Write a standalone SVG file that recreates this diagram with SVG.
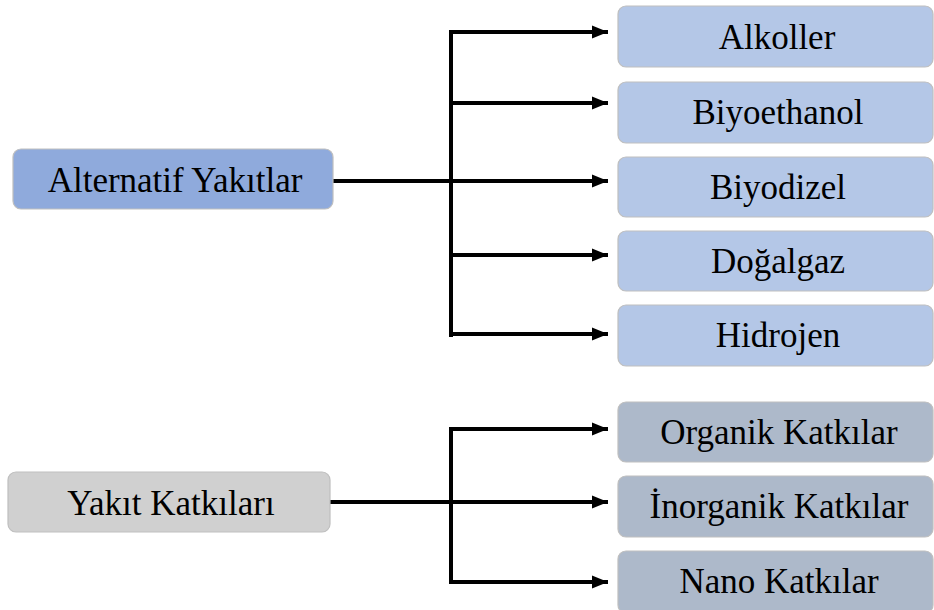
<svg xmlns="http://www.w3.org/2000/svg" width="934" height="610" viewBox="0 0 934 610">
<defs>
<marker id="ah" markerWidth="17" markerHeight="14" refX="16" refY="7" orient="auto" markerUnits="userSpaceOnUse">
<path d="M0,0.5 L16,7 L0,13.5 Z" fill="#000"/>
</marker>
<style>
.box{stroke:#bfbfbf;stroke-width:1.2}
.blue{fill:#b4c7e7}
.dblue{fill:#8faadc}
.gray{fill:#d0d0d0}
.slate{fill:#adb9ca}
.t{font-family:"Liberation Serif","Times New Roman",serif;font-size:35px;fill:#000;text-anchor:middle}
.c{fill:none;stroke:#000;stroke-width:4}
</style>
</defs>
<g id="connectors">
<path class="c" d="M333,181 H450"/>
<path class="c" d="M451,30 V337"/>
<path class="c" d="M451,32 H608" marker-end="url(#ah)"/>
<path class="c" d="M451,103 H608" marker-end="url(#ah)"/>
<path class="c" d="M451,181 H608" marker-end="url(#ah)"/>
<path class="c" d="M451,255 H608" marker-end="url(#ah)"/>
<path class="c" d="M451,334 H608" marker-end="url(#ah)"/>
<path class="c" d="M330,502 H450"/>
<path class="c" d="M451,427 V584"/>
<path class="c" d="M451,429 H608" marker-end="url(#ah)"/>
<path class="c" d="M451,502 H608" marker-end="url(#ah)"/>
<path class="c" d="M451,582 H608" marker-end="url(#ah)"/>
</g>
<g id="alternatif">
<rect class="box dblue" x="13" y="149" width="320" height="60" rx="8"/>
<text class="t" x="175" y="192">Alternatif Yakıtlar</text>
</g>
<g id="alkoller">
<rect class="box blue" x="618" y="6" width="315" height="61" rx="8"/>
<text class="t" x="777" y="49">Alkoller</text>
</g>
<g id="biyoethanol">
<rect class="box blue" x="618" y="82" width="315" height="61" rx="8"/>
<text class="t" x="778" y="124">Biyoethanol</text>
</g>
<g id="biyodizel">
<rect class="box blue" x="618" y="157" width="315" height="60" rx="8"/>
<text class="t" x="778" y="199">Biyodizel</text>
</g>
<g id="dogalgaz">
<rect class="box blue" x="618" y="231" width="315" height="60" rx="8"/>
<text class="t" x="778" y="273">Doğalgaz</text>
</g>
<g id="hidrojen">
<rect class="box blue" x="618" y="305" width="315" height="61" rx="8"/>
<text class="t" x="778" y="347">Hidrojen</text>
</g>
<g id="yakit-katkilari">
<rect class="box gray" x="8" y="472" width="322" height="60" rx="8"/>
<text class="t" x="171" y="515">Yakıt Katkıları</text>
</g>
<g id="organik">
<rect class="box slate" x="618" y="402" width="315" height="60" rx="8"/>
<text class="t" x="779" y="444">Organik Katkılar</text>
</g>
<g id="inorganik">
<rect class="box slate" x="618" y="476" width="315" height="61" rx="8"/>
<text class="t" x="779" y="518">İnorganik Katkılar</text>
</g>
<g id="nano">
<rect class="box slate" x="618" y="551" width="315" height="62" rx="8"/>
<text class="t" x="779" y="593">Nano Katkılar</text>
</g>
</svg>
